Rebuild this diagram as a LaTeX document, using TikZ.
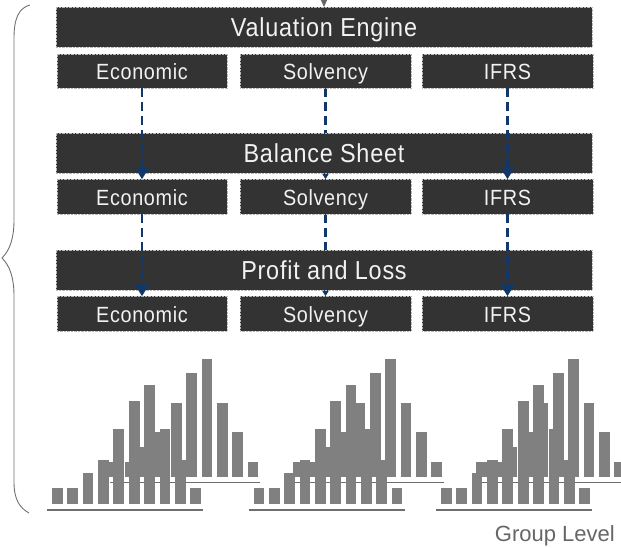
\documentclass[tikz,border=0pt]{standalone}
\usepackage{fontspec}
\setmainfont{Liberation Sans}
\newfontfamily\boxfont[FakeStretch=0.9,LetterSpace=3]{Liberation Sans}
\usetikzlibrary{arrows.meta,backgrounds}
\definecolor{boxfill}{HTML}{333333}
\definecolor{boxtext}{HTML}{F2F2F2}
\definecolor{navy}{HTML}{12386A}
\definecolor{bargray}{HTML}{808080}
\definecolor{linegray}{HTML}{6E6E6E}
\definecolor{bracegray}{HTML}{707070}
\definecolor{labelgray}{HTML}{666666}
\tikzset{
  boxbase/.style={fill=boxfill, draw=gray!55, densely dotted, line width=0.4pt,
    text=boxtext, inner sep=0pt, outer sep=0pt},
  bigbox/.style={boxbase, minimum width=536pt, minimum height=40pt,
    text height=21pt, text depth=2pt, font=\boxfont\fontsize{26}{30}\selectfont},
  subbox/.style={boxbase, minimum width=170.5pt, minimum height=34.5pt,
    text height=20pt, text depth=2pt, font=\boxfont\fontsize{22}{26}\selectfont},
  flow/.style={draw=navy, line width=2.7pt, dash pattern=on 9pt off 5pt,
    -{Triangle[width=14pt,length=12pt]}},
  bar/.style={fill=bargray},
  baseline rule/.style={draw=linegray, line width=1.7pt},
}
\begin{document}
\begin{tikzpicture}[x=1pt,y=-1pt]
\useasboundingbox (0,0) rectangle (621,548);

% boxes
\node[bigbox] (ve) at (324,27) {Valuation Engine};
\node[subbox] (e1) at (142,71) {Economic};
\node[subbox] (s1) at (325.5,71) {Solvency};
\node[subbox] (i1) at (507.5,71) {IFRS};

\node[bigbox] (bs) at (324,153) {Balance Sheet};
\node[subbox] (e2) at (142,196.5) {Economic};
\node[subbox] (s2) at (325.5,196.5) {Solvency};
\node[subbox] (i2) at (507.5,196.5) {IFRS};

\node[bigbox] (pl) at (324,270) {Profit and Loss};
\node[subbox] (e3) at (142,313.5) {Economic};
\node[subbox] (s3) at (325.5,313.5) {Solvency};
\node[subbox] (i3) at (507.5,313.5) {IFRS};

% incoming arrow at the top
\coordinate (src) at (324,-20);
\draw[draw=labelgray, line width=1pt, -{Triangle[width=6pt,length=7pt]}] (src) -- (ve.north);

% dashed flows
\begin{pgfonlayer}{background}
\draw[flow] (s1.south) -- (s2.north);
\draw[flow] (s2.south) -- (s3.north);
\end{pgfonlayer}
\draw[flow] (e1.south) -- (e2.north);
\draw[flow] (e2.south) -- (e3.north);
\draw[flow] (i1.south) -- (i2.north);
\draw[flow] (i2.south) -- (i3.north);

% brace
\draw[bracegray, line width=0.9pt] (30,5) .. controls (19,8) and (14,18) .. (14,38)
  -- (14,220) .. controls (14,238) and (10,250) .. (2,258)
  .. controls (10,266) and (14,278) .. (14,296)
  -- (14,482) .. controls (14,500) and (20,508) .. (29,513);

% histograms
\foreach \gx/\bx in {52/109.4, 253.5/293, 441/476} {
  \foreach \h [count=\i from 0] in {14.4,14.4,29.7,45,73.7,103.7,117.4,73.7,45,14.7}
    \fill[bar] (\bx+\i*15.36,476.7) rectangle ++(10.7,-\h);
  \draw[baseline rule] (\bx+0.6,482.5) -- (\bx+150.6,482.5);
  \foreach \h [count=\i from 0] in {16.3,16.3,31,44.3,75,103,119,75,44.3,16.3}
    \fill[bar] (\gx+\i*15.36,504) rectangle ++(10.7,-\h);
  \draw[baseline rule] (\gx-5,510) -- (\gx+151,510);
}

\node[anchor=base east, text=labelgray, inner sep=0pt, font=\fontsize{22}{26}\selectfont] (gl) at (615,541.5) {Group Level};
\end{tikzpicture}
\end{document}
